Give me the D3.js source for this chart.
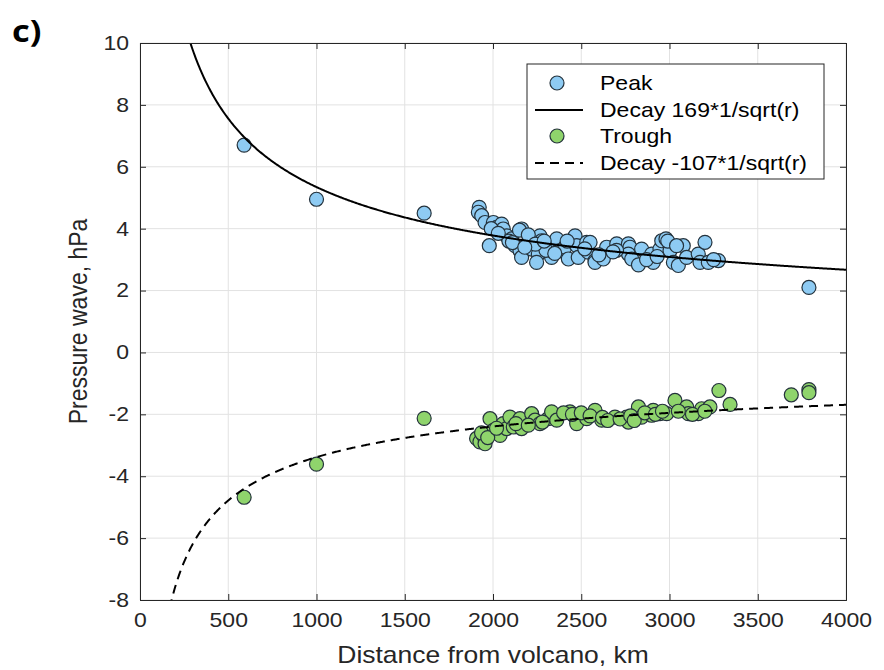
<!DOCTYPE html>
<html><head><meta charset="utf-8">
<script src="https://cdn.jsdelivr.net/npm/d3@7"></script>
<style>body{margin:0;background:#fff}svg{font-family:"Liberation Sans",Arial,sans-serif}</style>
</head><body><svg id="c" width="884" height="670"></svg>
<script>
const xTicks=[0,500,1000,1500,2000,2500,3000,3500,4000];
const yTicks=[-8,-6,-4,-2,0,2,4,6,8,10];
const peakDist=[590,1000,1610,3790,1922,1917,1936,1955,2002,2021,2049,2058,1979,2077,2106,2125,2162,2153,2162,2200,2219,2257,2247,2266,2276,2313,2332,2361,2380,2408,2427,2465,2474,2483,2531,2540,2578,2550,2578,2625,2644,2701,2767,2776,2767,2786,2824,2842,2899,2908,2946,2956,2980,3003,3022,3050,3078,3097,3163,3173,3201,3220,3277,2150,2200,2300,2350,2420,2600,2700,2870,2990,3040,3250,2090,2240,2520,2680,2930,1990,2030,2110,2180,2290];
const peakVal=[6.7,4.95,4.5,2.1,4.69,4.53,4.42,4.2,4.2,4.04,4.15,3.99,3.45,3.77,3.67,3.45,3.99,3.29,3.07,3.56,3.34,3.18,2.91,3.77,3.61,3.45,3.07,3.67,3.29,3.4,3.02,3.77,3.45,3.07,3.56,3.24,2.97,3.56,2.91,3.02,3.4,3.51,3.51,3.4,3.18,3.02,2.83,3.34,3.18,2.91,3.34,3.61,3.67,3.29,2.91,2.81,3.45,3.07,3.18,2.91,3.56,2.91,2.97,3.95,3.8,3.3,3.2,3.6,3.15,3.3,3.0,3.6,3.45,3.0,3.6,3.5,3.35,3.25,3.1,4.0,3.85,3.55,3.4,3.6];
const troughDist=[590,1000,1610,3280,3690,3790,3790,3343,1907,1926,1945,1955,1983,2002,2040,2058,2077,2096,2115,2153,2162,2219,2238,2266,2313,2332,2361,2436,2465,2474,2531,2578,2578,2616,2691,2757,2767,2824,2842,2899,2908,2946,2984,3031,3097,3107,3163,3182,3229,2400,2450,2500,2550,2620,2650,2720,2780,2800,2860,2920,2960,3050,3130,3200,1935,1970,2020,2130,2200,2280];
const troughVal=[-4.68,-3.61,-2.13,-1.23,-1.37,-1.2,-1.3,-1.68,-2.78,-2.89,-2.68,-2.95,-2.14,-2.52,-2.68,-2.3,-2.46,-2.09,-2.41,-2.14,-2.46,-1.98,-2.19,-2.3,-2.14,-1.92,-2.19,-1.92,-2.09,-2.3,-2.14,-1.92,-1.87,-2.19,-2.09,-2.09,-2.25,-1.76,-2.09,-2.03,-1.87,-1.98,-1.98,-1.55,-1.76,-1.98,-1.98,-1.82,-1.76,-1.95,-2.0,-1.95,-2.05,-2.1,-2.2,-2.15,-2.05,-2.2,-1.95,-2.0,-1.9,-1.9,-2.0,-1.9,-2.6,-2.75,-2.45,-2.3,-2.35,-2.25];
const decayCoef=[169,-107];
const legendLabels=["Peak","Decay 169*1/sqrt(r)","Trough","Decay -107*1/sqrt(r)"];

const K=1.15; // horizontal text stretch seen in the reference
function stretch(sel,k){
  sel.each(function(){
    const t=d3.select(this);
    const tx=+(t.attr("x")||0), ty=+(t.attr("y")||0);
    const prev=t.attr("transform")||"";
    t.attr("x",0).attr("y",0).attr("transform",`${prev} translate(${tx},${ty}) scale(${k},1)`);
  });
}

const svg=d3.select("#c");
const L=140,R=846,T=43,B=600;
const x=d3.scaleLinear().domain([0,4000]).range([L,R]);
const y=d3.scaleLinear().domain([-8,10]).range([B,T]);
const blue="#8ecbf3",green="#8fd46c",mstroke="#24323c";

stretch(svg.append("text").attr("x",12).attr("y",42).attr("font-family","'Open Sans',Arial,sans-serif").attr("font-weight","bold").attr("font-size",30).text("c)"),K);

const g=svg.append("g");
g.append("rect").attr("x",L).attr("y",T).attr("width",R-L).attr("height",B-T).attr("fill","#fff");
g.selectAll(".gx").data(xTicks).join("line").attr("x1",d=>x(d)).attr("x2",d=>x(d)).attr("y1",T).attr("y2",B).attr("stroke","#e2e2e2").attr("stroke-width",1);
g.selectAll(".gy").data(yTicks).join("line").attr("y1",d=>y(d)).attr("y2",d=>y(d)).attr("x1",L).attr("x2",R).attr("stroke","#e2e2e2").attr("stroke-width",1);

svg.append("clipPath").attr("id","clp").append("rect").attr("x",L).attr("y",T).attr("width",R-L).attr("height",B-T);

const rs=d3.range(150,4001,5);
const lineGen=d3.line().x(d=>x(d[0])).y(d=>y(d[1]));

const peaks=peakDist.map((d,i)=>[d,peakVal[i]]);
const troughs=troughDist.map((d,i)=>[d,troughVal[i]]);
g.selectAll(".p").data(peaks).join("circle").attr("cx",d=>x(d[0])).attr("cy",d=>y(d[1])).attr("r",7).attr("fill",blue).attr("stroke",mstroke).attr("stroke-width",1.2);
g.selectAll(".t").data(troughs).join("circle").attr("cx",d=>x(d[0])).attr("cy",d=>y(d[1])).attr("r",7).attr("fill",green).attr("stroke",mstroke).attr("stroke-width",1.2);
g.append("path").attr("clip-path","url(#clp)").attr("d",lineGen(rs.map(r=>[r,decayCoef[0]/Math.sqrt(r)]))).attr("fill","none").attr("stroke","#000").attr("stroke-width",2);
g.append("path").attr("clip-path","url(#clp)").attr("d",lineGen(rs.map(r=>[r,decayCoef[1]/Math.sqrt(r)]))).attr("fill","none").attr("stroke","#000").attr("stroke-width",2).attr("stroke-dasharray","9,6");

const ax=svg.append("g").attr("transform",`translate(0,${B})`).call(d3.axisBottom(x).tickValues(xTicks).tickSize(-6).tickPadding(13).tickFormat(d3.format("d")));
const axT=svg.append("g").attr("transform",`translate(0,${T})`).call(d3.axisTop(x).tickValues(xTicks).tickSize(-6).tickFormat(""));
const ay=svg.append("g").attr("transform",`translate(${L},0)`).call(d3.axisLeft(y).tickValues(yTicks).tickSize(-6).tickPadding(11).tickFormat(d3.format("d")));
const ayR=svg.append("g").attr("transform",`translate(${R},0)`).call(d3.axisRight(y).tickValues(yTicks).tickSize(-6).tickFormat(""));
[ax,axT,ay,ayR].forEach(a=>{a.selectAll("path,line").attr("stroke","#262626").attr("stroke-width",1);a.selectAll("text").attr("font-size",20).attr("fill","#262626").attr("font-family","'Liberation Sans',Arial,sans-serif");});
ay.selectAll("text").text(d=>d<0?"-"+Math.abs(d):d);
stretch(ax.selectAll(".tick text"),K);
stretch(ay.selectAll(".tick text"),K);

stretch(svg.append("text").attr("x",(L+R)/2).attr("y",663).attr("text-anchor","middle").attr("font-size",23).attr("fill","#262626").text("Distance from volcano, km"),K);
svg.append("text").attr("transform",`translate(87,${(T+B)/2}) rotate(-90) scale(1,${K})`).attr("text-anchor","middle").attr("font-size",23).attr("fill","#262626").text("Pressure wave, hPa");

const lg=svg.append("g");
lg.append("rect").attr("x",527).attr("y",64).attr("width",297).attr("height",115).attr("fill","#fff").attr("stroke","#262626").attr("stroke-width",1);
const rowY=[83,110,136,163];
legendLabels.forEach((t,i)=>{
  const yy=rowY[i];
  if(i===0||i===2){
    lg.append("circle").attr("cx",557).attr("cy",yy).attr("r",7).attr("fill",i===0?blue:green).attr("stroke",mstroke).attr("stroke-width",1.2);
  } else {
    lg.append("line").attr("x1",535).attr("x2",583).attr("y1",yy).attr("y2",yy).attr("stroke","#000").attr("stroke-width",2).attr("stroke-dasharray",i===3?"9,6":null);
  }
  stretch(lg.append("text").attr("x",600).attr("y",yy+7).attr("font-size",20).attr("fill","#000").text(t),K);
});
</script></body></html>
